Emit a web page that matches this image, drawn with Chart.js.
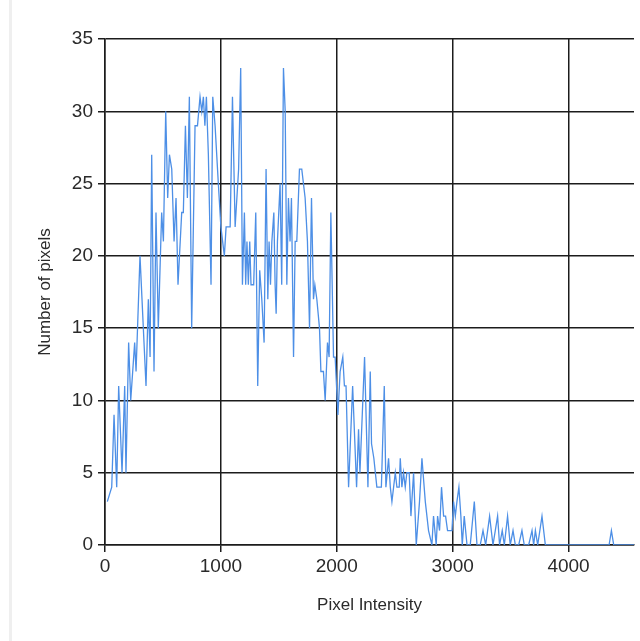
<!DOCTYPE html>
<html>
<head>
<meta charset="utf-8">
<title>Pixel Intensity Histogram</title>
<script src="https://cdn.jsdelivr.net/npm/chart.js@4.4.1/dist/chart.umd.min.js"></script>
<style>
    html, body { margin: 0; padding: 0; background: #fff; }
    #wrap { position: relative; width: 640px; height: 641px; }
    #edge { position: absolute; left: 9px; top: 0; width: 3px; height: 641px; background: #efefef; }
</style>
</head>
<body>
<div id="wrap">
    <div id="edge"></div>
    <canvas id="histChart"></canvas>
</div>
<script>
// histogram bins: intensity value -> number of pixels
var intensity = [20, 58, 78, 101, 118, 147, 170, 181, 204, 222, 256, 268, 302, 354, 374, 389, 403, 423, 440, 460,
    489, 504, 524, 541, 556, 576, 596, 613, 630, 662, 676, 694, 711, 728, 748, 777, 798, 820, 835, 849,
    862, 875, 892, 915, 930, 950, 978, 1000, 1030, 1045, 1080, 1100, 1123, 1153, 1171, 1186, 1203, 1214, 1225, 1237,
    1249, 1260, 1283, 1301, 1318, 1335, 1353, 1373, 1390, 1405, 1416, 1428, 1440, 1457, 1468, 1477, 1488, 1511, 1525, 1540,
    1555, 1569, 1583, 1597, 1609, 1627, 1641, 1655, 1678, 1698, 1727, 1747, 1765, 1782, 1799, 1811, 1828, 1851, 1863, 1885,
    1900, 1920, 1934, 1949, 1972, 1986, 2010, 2029, 2052, 2066, 2080, 2102, 2137, 2171, 2188, 2200, 2240, 2269, 2289, 2300,
    2320, 2346, 2370, 2385, 2410, 2424, 2447, 2462, 2476, 2505, 2519, 2539, 2548, 2562, 2576, 2591, 2605, 2625, 2640, 2663,
    2686, 2714, 2735, 2764, 2792, 2821, 2835, 2858, 2870, 2887, 2904, 2922, 2939, 2956, 2994, 3008, 3023, 3037, 3054, 3071,
    3083, 3100, 3124, 3152, 3187, 3210, 3238, 3262, 3285, 3319, 3348, 3368, 3388, 3405, 3428, 3446, 3474, 3497, 3521, 3541,
    3570, 3598, 3618, 3656, 3685, 3699, 3714, 3734, 3771, 3800, 4350, 4370, 4390, 4565];
var pixelCount = [3, 4, 9, 4, 11, 5, 11, 5, 14, 10, 14, 12, 20, 11, 17, 13, 27, 12, 23, 15,
    23, 21, 30, 24, 27, 26, 21, 24, 18, 23, 23, 29, 24, 31, 15, 29, 29, 31, 30, 31,
    29, 31, 27, 18, 31, 29, 25, 22, 20, 22, 22, 31, 22, 26, 33, 18, 23, 18, 21, 18,
    21, 18, 18, 23, 11, 19, 17, 14, 26, 17, 21, 18, 21, 23, 18, 16, 21, 25, 18, 33,
    30, 18, 24, 21, 24, 13, 21, 21, 26, 26, 24, 21, 15, 24, 17, 18, 17, 15, 12, 12,
    10, 14, 13, 23, 13, 13, 9, 12, 13, 11, 11, 4, 11, 4, 8, 5, 13, 4, 12, 7,
    6, 4, 4, 4, 11, 4, 6, 4, 3, 5, 4, 4, 6, 4, 5, 4, 5, 5, 2, 5,
    0, 3, 6, 3, 1, 0, 2, 0, 2, 1, 4, 2, 2, 1, 1, 3, 2, 3, 4, 2,
    0, 2, 0, 0, 3, 0, 0, 1, 0, 2, 0, 1, 2, 0, 1, 0, 2, 0, 1, 0,
    0, 1, 0, 0, 1, 0, 1, 0, 2, 0, 0, 1, 0, 0];
var xTicks = [0, 1000, 2000, 3000, 4000];
var xMax = 4565;
var yMax = 35;

var points = intensity.map(function (v, i) { return { x: v, y: pixelCount[i] }; });

var gridColor = '#1c1c1c';
var textColor = '#2a2a2a';

var ctx = document.getElementById('histChart').getContext('2d');
var histChart = new Chart(ctx, {
    type: 'line',
    data: {
        datasets: [{
            label: 'Pixels',
            data: points,
            borderColor: '#4d8fe6',
            borderWidth: 1.3,
            pointRadius: 0,
            tension: 0,
            fill: false
        }]
    },
    options: {
        responsive: true,
        maintainAspectRatio: false,
        animation: false,
        layout: { padding: { left: 0, top: 39, right: 6, bottom: 0 } },
        plugins: {
            legend: { display: false },
            tooltip: { enabled: false }
        },
        scales: {
            x: {
                type: 'linear',
                min: 0,
                max: xMax,
                afterBuildTicks: function (scale) {
                    scale.ticks = xTicks.map(function (v) { return { value: v }; });
                },
                afterFit: function (scale) { scale.height = 96; },
                grid: { color: gridColor, lineWidth: 1.5, tickLength: 7, tickColor: gridColor },
                border: { display: true, color: gridColor, width: 1.5 },
                ticks: {
                    color: textColor,
                    padding: 3,
                    font: { family: 'Liberation Sans', size: 19 },
                    callback: function (value) { return String(value); }
                },
                title: {
                    display: true,
                    text: 'Pixel Intensity',
                    color: textColor,
                    padding: { top: 0, bottom: 25 },
                    font: { family: 'Liberation Sans', size: 17 }
                }
            },
            y: {
                min: 0,
                max: yMax,
                afterFit: function (scale) { scale.width = 105; },
                grid: { color: gridColor, lineWidth: 1.5, tickLength: 7, tickColor: gridColor },
                border: { display: true, color: gridColor, width: 1.5 },
                ticks: {
                    stepSize: 5,
                    color: textColor,
                    padding: 5,
                    font: { family: 'Liberation Sans', size: 19 }
                },
                title: {
                    display: true,
                    text: 'Number of pixels',
                    color: textColor,
                    padding: { top: 35, bottom: 0 },
                    font: { family: 'Liberation Sans', size: 17 }
                }
            }
        }
    }
});
</script>
</body>
</html>
